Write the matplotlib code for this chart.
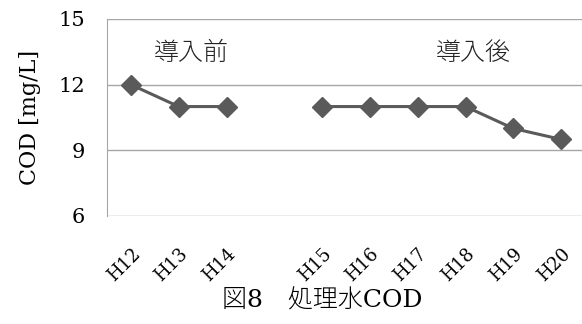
import matplotlib
matplotlib.use("Agg")
import matplotlib.pyplot as plt
import numpy as np

categories = ["H12", "H13", "H14", "", "H15", "H16", "H17", "H18", "H19", "H20"]
values = [12, 11, 11, np.nan, 11, 11, 11, 11, 10, 9.5]
yticks = [6, 9, 12, 15]

serif = ["DejaVu Serif"]
cjk = ["DejaVu Serif", "Noto Sans CJK JP"]

fig = plt.figure(figsize=(5.82, 3.24), dpi=100)
ax = fig.add_axes([107/582, 1-216/324, (585-107)/582, (216-19)/324])

x = np.arange(len(categories))
ax.plot(x, values, color="#5a5a5a", lw=2.2, marker="D", ms=10, mec="#5a5a5a", mfc="#5a5a5a")

ax.set_xlim(-0.5, len(categories) - 0.5)
ax.set_ylim(6, 15)
ax.set_yticks(yticks)
ax.set_yticklabels([str(t) for t in yticks], family=serif, fontsize=15)
ax.yaxis.grid(True, color="#a6a6a6", lw=1.0)
ax.set_axisbelow(True)
ax.tick_params(axis="both", length=0)
ax.tick_params(axis="y", pad=16)
ax.set_xticks(x)
ax.set_xticklabels(categories, rotation=45, ha="right", va="top", rotation_mode="anchor",
                   family=serif, fontsize=13)
ax.tick_params(axis="x", pad=21)
for s in ["top", "right", "bottom"]:
    ax.spines[s].set_visible(False)
ax.spines["left"].set_color("#a6a6a6")

ax.set_ylabel("COD [mg/L]", family=serif, fontsize=16, labelpad=12)

ax.text(1.26, 13.45, "導入前", family=["Noto Sans CJK JP"], fontsize=18, fontweight="light",
        ha="center", va="center", color="#222222")
ax.text(7.16, 13.45, "導入後", family=["Noto Sans CJK JP"], fontsize=18, fontweight="light",
        ha="center", va="center", color="#222222")

fig.text(322/582, 1-301/324, "図8　処理水COD", family=cjk, fontsize=18, fontweight="light",
         ha="center", va="center")

fig.savefig("out.png", dpi=100, facecolor="white")
